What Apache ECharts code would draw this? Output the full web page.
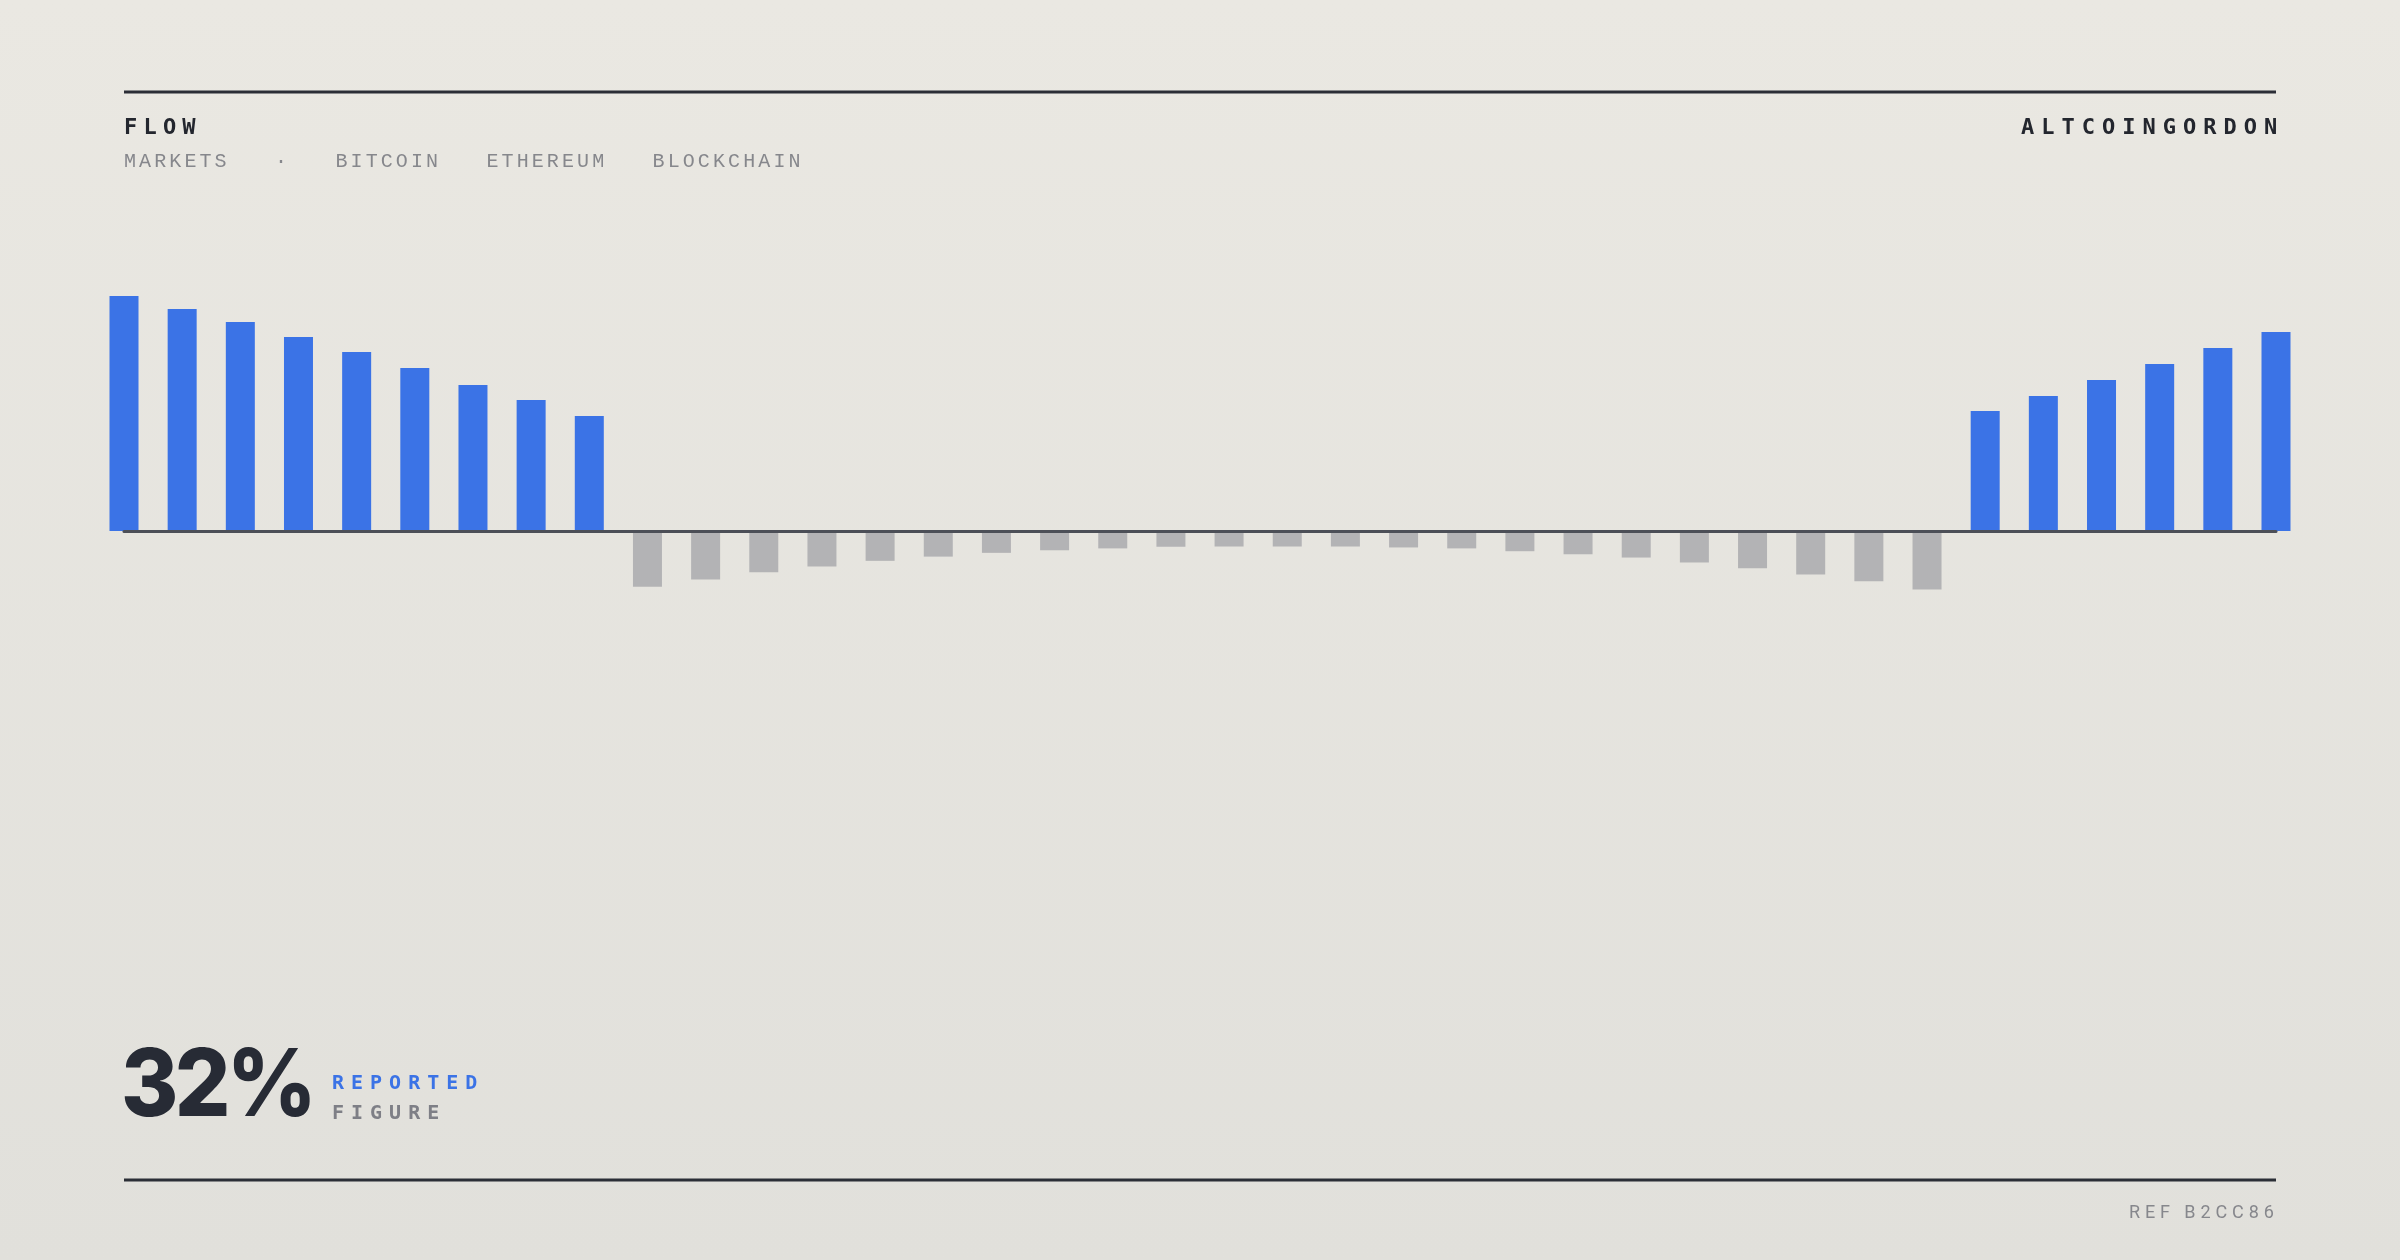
<!DOCTYPE html>
<html>
<head>
<meta charset="utf-8">
<script src="https://cdn.jsdelivr.net/npm/echarts@6/dist/echarts.min.js"></script>
<style>
html,body{margin:0;padding:0;width:2400px;height:1260px;overflow:hidden;background:#e6e4de;}
#chart{width:2400px;height:1260px;}
</style>
</head>
<body>
<div id="chart"></div>
<script>
// ---- data ----
const categories = ['P01','P02','P03','P04','P05','P06','P07','P08','P09','P10','P11','P12','P13','P14','P15','P16','P17','P18','P19','P20','P21','P22','P23','P24','P25','P26','P27','P28','P29','P30','P31','P32','P33','P34','P35','P36','P37','P38'];
const leadingInflow = [100, 94.5, 88.9, 82.6, 76.2, 69.4, 62.1, 55.7, 48.9];
const outflow = [-23.7, -20.6, -17.5, -15.1, -12.7, -10.9, -9.3, -8.2, -7.4, -6.7, -6.6, -6.6, -6.6, -7.0, -7.4, -8.6, -9.9, -11.3, -13.4, -15.8, -18.5, -21.4, -24.9];
const trailingInflow = [51.1, 57.4, 64.3, 71.1, 77.9, 84.7];
const flowValues = leadingInflow.concat(outflow, trailingInflow);

const titleText = 'FLOW';
const subtitleText = 'MARKETS   \u00b7   BITCOIN   ETHEREUM   BLOCKCHAIN';
const brandText = 'ALTCOINGORDON';
const headlineValue = '32%';
const headlineLabel1 = 'REPORTED';
const headlineLabel2 = 'FIGURE';
const refText = 'REF B2CC86';

// ---- letter spacing for canvas text (style only) ----
const letterSpacingMap = {};
letterSpacingMap[titleText] = '6.2px';
letterSpacingMap[brandText] = '7px';
letterSpacingMap[subtitleText] = '3.1px';
letterSpacingMap[headlineLabel1] = '7px';
letterSpacingMap[headlineLabel2] = '7px';
letterSpacingMap[refText] = '4.9px';
letterSpacingMap[headlineValue] = '-4px';
(function(){
  const proto = CanvasRenderingContext2D.prototype;
  const orig = proto.fillText;
  proto.fillText = function(t, x, y, m){
    const ls = letterSpacingMap[t];
    if (ls !== undefined && 'letterSpacing' in this) {
      const prev = this.letterSpacing;
      this.letterSpacing = ls;
      if (m === undefined) orig.call(this, t, x, y); else orig.call(this, t, x, y, m);
      this.letterSpacing = prev;
    } else {
      if (m === undefined) orig.call(this, t, x, y); else orig.call(this, t, x, y, m);
    }
  };
})();

const BLUE = '#3b73e6';
const GRAY = '#b3b3b5';
const INK = '#23262e';
const MUTED = '#86878c';
const MONO = '"DejaVu Sans Mono", "Liberation Mono", monospace';

const chart = echarts.init(document.getElementById('chart'), null, {renderer: 'canvas'});

function txt(text, x, y, font, fill, extra) {
  return Object.assign({
    type: 'text', x: x, y: y, silent: true,
    style: {text: text, font: font, fill: fill, textAlign: 'left', textVerticalAlign: 'middle', align: 'left', verticalAlign: 'middle'}
  }, extra || {});
}

const option = {
  animation: false,
  backgroundColor: new echarts.graphic.LinearGradient(0, 0, 0, 1, [
    {offset: 0, color: '#eae8e2'},
    {offset: 1, color: '#e1e0db'}
  ]),
  grid: {left: 124, right: 124, top: 296, bottom: 494, containLabel: false},
  xAxis: {
    type: 'category',
    data: categories,
    boundaryGap: false,
    z: 5,
    axisLine: {show: true, onZero: true, lineStyle: {color: '#4c4f57', width: 3}},
    axisTick: {show: false},
    axisLabel: {show: false},
    splitLine: {show: false}
  },
  yAxis: {
    type: 'value',
    min: -100, max: 100,
    show: false,
    splitLine: {show: false}
  },
  series: [{
    type: 'bar',
    data: flowValues,
    barWidth: 29,
    itemStyle: {
      color: function(p){ return p.value >= 0 ? BLUE : GRAY; }
    }
  }],
  graphic: [
    {type: 'line', silent: true, shape: {x1: 124, y1: 92, x2: 2276, y2: 92}, style: {stroke: '#2b2e36', lineWidth: 3}},
    {type: 'line', silent: true, shape: {x1: 124, y1: 1180, x2: 2276, y2: 1180}, style: {stroke: '#2b2e36', lineWidth: 3}},
    txt(titleText, 124, 128.5, 'bold 22px ' + MONO, INK),
    txt(brandText, 2021, 128.5, 'bold 22px ' + MONO, INK),
    txt(subtitleText, 124, 161.5, '20px ' + '"Liberation Mono", "DejaVu Sans Mono", monospace', MUTED),
    txt(headlineValue, 121, 1088, '800 93px Inter, "Liberation Sans", sans-serif', '#272b35', {scaleX: 0.94}),
    txt(headlineLabel1, 332, 1084, 'bold 20px ' + MONO, BLUE),
    txt(headlineLabel2, 332, 1114, 'bold 20px ' + MONO, '#7e7f86'),
    txt(refText, 2129, 1213, '18px Roboto, "Liberation Sans", sans-serif', MUTED)
  ]
};
chart.setOption(option);
</script>
</body>
</html>
